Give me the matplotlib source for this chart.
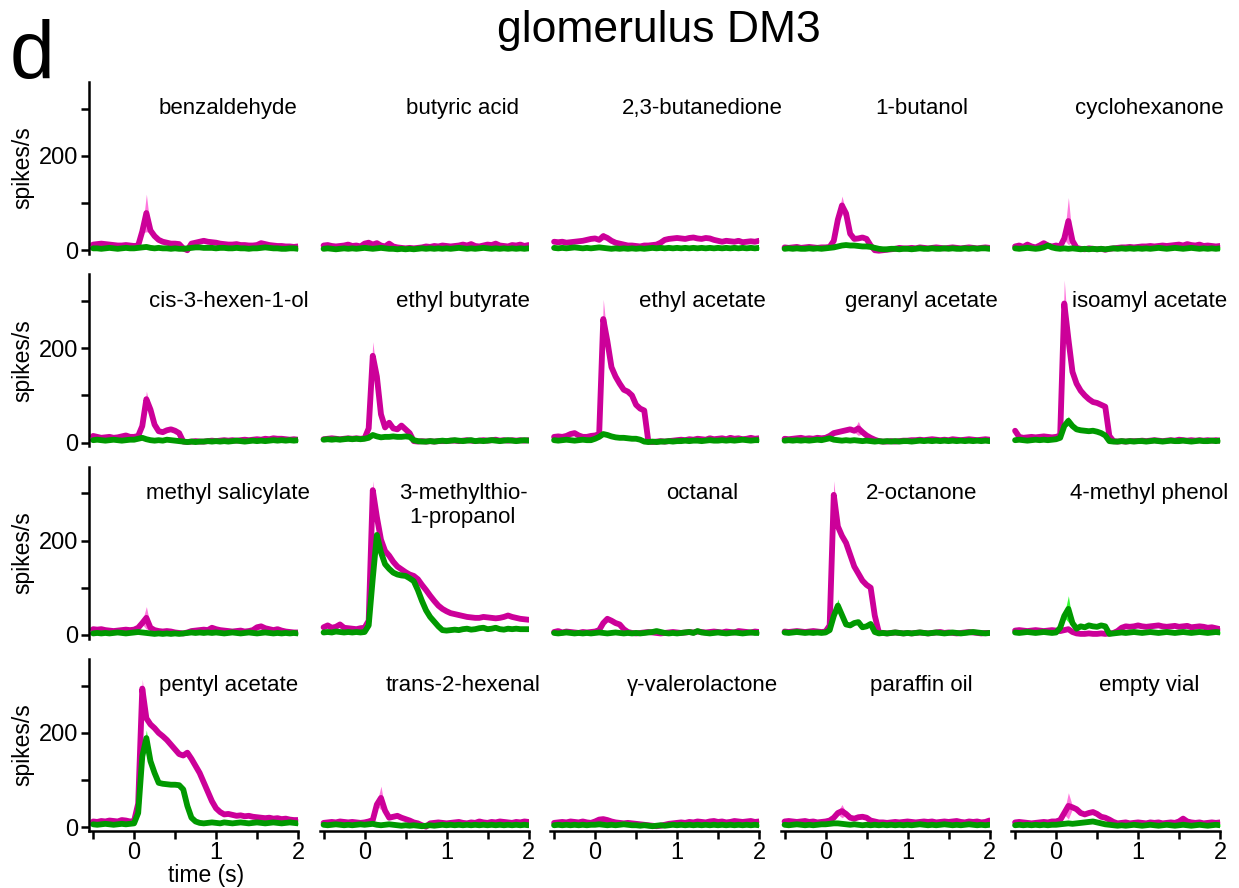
import numpy as np
import matplotlib
matplotlib.use("Agg")
import matplotlib.pyplot as plt
from matplotlib.ticker import MultipleLocator

plt.rcParams['font.family'] = ['Liberation Sans', 'DejaVu Sans']

# 50 ms bins from -0.5 s to 2.0 s (odor onset at 0)
time_s = np.round(np.arange(-0.5, 2.0001, 0.05), 2)

odors = ["benzaldehyde", "butyric acid", "2,3-butanedione", "1-butanol", "cyclohexanone",
         "cis-3-hexen-1-ol", "ethyl butyrate", "ethyl acetate", "geranyl acetate", "isoamyl acetate",
         "methyl salicylate", "3-methylthio-\n1-propanol", "octanal", "2-octanone", "4-methyl phenol",
         "pentyl acetate", "trans-2-hexenal", "\u03b3-valerolactone", "paraffin oil", "empty vial"]

# firing rates (spikes/s), magenta = _m, green = _g
benzaldehyde_m = [12,13,14,13,12,11,10,10,11,10, 9,10,40,79,42,30,22,18,16,14, 14,13,4,0,14,16,18,20,18,17, 16,14,13,12,12,13,11,11,10,10, 11,15,13,11,10,9,9,8,8,7,8]
benzaldehyde_g = [4,4,3,4,5,4,3,4,5,4, 4,5,6,7,5,4,5,4,4,3, 4,3,3,4,5,6,6,5,5,5, 4,5,5,4,4,5,4,4,3,4, 4,5,6,5,4,4,3,3,4,4,3]
butyric_m = [10,11,9,8,9,10,12,9,10,8, 14,16,12,15,10,8,14,8,6,5, 4,5,4,5,6,8,7,9,8,10, 9,8,9,10,12,10,13,9,8,10, 12,11,14,10,9,8,11,10,12,9,11]
butyric_g = [3,4,3,2,3,4,3,4,3,4, 5,4,3,4,5,4,3,3,2,3, 2,3,2,3,4,3,4,3,4,3, 4,3,4,5,4,3,4,3,4,5, 4,3,4,3,4,3,4,3,4,3,4]
butanedione_m = [18,17,18,16,17,18,19,20,22,24, 25,22,30,26,20,16,14,12,10,10, 9,8,10,10,11,12,16,22,24,25, 26,25,24,26,27,25,24,26,25,22, 20,18,20,19,18,20,17,18,19,18,20]
butanedione_g = [5,4,5,4,5,6,5,4,5,4, 5,6,5,4,3,4,3,4,3,4, 3,4,3,4,5,4,5,4,5,4, 5,4,5,4,5,4,5,4,5,4, 5,4,5,4,5,4,5,4,5,4,5]
butanol_m = [6,5,6,7,5,6,7,6,5,6, 6,7,20,65,95,78,35,24,25,27, 24,10,0,-1,0,1,2,3,5,4, 4,5,4,6,5,4,5,6,5,4, 5,6,5,4,5,6,5,4,5,6,5]
butanol_g = [3,4,3,4,3,3,4,3,4,3, 4,5,6,8,10,11,10,10,9,8, 8,7,5,3,2,2,3,3,2,3, 3,2,3,4,3,3,4,3,3,4, 3,4,3,3,4,3,4,3,4,4,3]
cyclohexanone_m = [8,10,7,12,8,6,10,15,10,8, 10,8,25,62,20,5,3,2,4,3, 2,3,1,3,4,5,6,6,7,6, 7,8,8,9,8,9,10,9,10,11, 12,10,13,11,10,12,9,10,9,8,9]
cyclohexanone_g = [4,3,4,5,4,3,4,6,10,6, 4,3,4,3,4,3,2,3,2,3, 2,3,2,3,4,3,4,3,4,3, 4,3,4,3,4,5,4,3,4,5, 4,3,4,5,4,3,4,3,4,3,4]

hexenol_m = [14,12,10,11,12,10,11,13,15,12, 12,14,35,92,70,38,24,22,26,28, 25,20,2,1,2,3,2,2,3,4, 3,4,5,4,5,4,5,6,5,6, 7,6,8,7,9,8,8,7,6,7,6]
hexenol_g = [5,6,5,4,5,6,5,4,5,6, 6,8,10,7,5,4,5,4,6,5, 4,3,2,1,2,1,2,2,3,2, 3,2,3,2,3,4,3,2,3,4, 3,4,3,4,5,4,5,4,5,4,5]
ethylbutyrate_m = [7,8,9,8,7,8,9,8,9,8, 9,30,184,140,60,32,42,30,28,36, 28,20,3,2,3,2,3,2,3,3, 3,4,4,3,4,5,4,3,4,5, 4,5,6,4,5,4,5,4,5,4,5]
ethylbutyrate_g = [6,7,6,7,6,7,8,7,8,7, 8,10,16,13,11,12,12,13,12,12, 13,12,5,3,2,2,3,2,3,4, 3,4,5,4,3,4,5,3,4,3, 4,5,4,3,4,5,4,3,4,5,4]
ethylacetate_m = [12,13,12,14,18,20,15,12,12,14, 15,18,262,215,160,140,125,112,108,100, 80,72,68,2,1,2,3,2,3,4, 5,6,5,7,6,8,7,6,9,7, 8,9,7,10,8,9,7,8,10,8,9]
ethylacetate_g = [5,4,5,6,5,4,5,6,5,5, 8,12,18,16,13,11,10,10,9,8, 8,6,2,1,2,1,2,2,3,2, 3,3,4,3,4,4,3,4,5,4, 4,5,4,5,4,5,6,5,4,5,5]
geranyl_m = [8,7,8,9,10,8,9,8,10,9, 10,14,20,22,24,26,28,25,30,22, 15,10,6,3,2,2,3,2,3,4, 4,5,5,6,5,6,7,6,5,6, 5,7,6,5,6,7,6,5,6,7,6]
geranyl_g = [4,5,4,5,4,5,4,5,6,5, 7,9,6,5,4,5,4,5,4,3, 4,3,2,3,2,3,2,3,2,3, 3,2,3,4,3,4,3,4,3,4, 3,4,3,4,3,4,3,4,3,4,3]
isoamyl_m = [25,12,10,11,12,11,12,13,12,11, 12,15,295,220,150,125,110,100,92,86, 84,80,76,14,3,2,3,2,3,3, 3,4,3,4,5,4,3,4,5,4, 6,5,4,5,4,5,4,5,4,5,4]
isoamyl_g = [5,6,5,4,5,6,5,6,5,6, 7,10,35,46,35,28,26,25,24,25, 23,20,15,3,2,2,3,2,3,2, 3,3,2,3,4,3,2,3,4,3, 3,4,3,2,3,4,3,3,4,3,4]

salicylate_m = [12,11,12,10,9,8,9,10,11,10, 11,15,25,36,15,10,8,7,8,7, 5,4,3,5,8,9,10,11,10,15, 12,10,9,8,7,8,9,7,8,10, 16,18,14,12,10,12,9,7,6,5,5]
salicylate_g = [3,4,3,4,3,4,5,4,3,4, 5,6,5,4,3,2,3,2,3,2, 3,2,3,4,5,4,5,4,5,4, 5,4,3,4,5,4,3,4,5,4, 3,4,5,4,3,4,3,4,3,4,3]
methylthio_m = [16,20,15,17,22,15,14,13,12,14, 15,30,307,250,202,178,168,155,145,139, 133,128,125,118,106,95,83,72,62,55, 50,46,44,42,40,38,37,36,36,38, 37,36,35,36,38,41,38,36,34,33,32]
methylthio_g = [5,6,5,7,6,5,6,5,6,5, 6,20,120,212,175,150,140,132,128,126, 125,120,114,95,72,52,38,28,18,10, 9,10,11,10,12,13,11,12,14,15, 12,13,15,12,11,13,12,13,12,12,12]
octanal_m = [6,8,5,7,6,5,4,6,5,6, 7,10,25,34,30,25,22,12,6,4, 3,4,5,6,5,4,3,4,5,6, 5,4,5,6,5,7,6,5,6,7, 6,5,7,6,5,8,7,6,5,7,6]
octanal_g = [4,3,4,5,4,3,4,3,4,3, 4,5,4,3,4,5,4,3,4,3, 4,3,4,5,6,8,6,4,3,4, 3,4,5,6,4,8,5,4,3,4, 5,4,3,4,5,4,3,4,5,4,4]
octanone_m = [7,6,7,8,7,6,7,8,7,6, 7,20,297,230,210,195,170,145,130,115, 106,100,41,5,4,3,4,5,4,3, 4,3,4,5,4,3,4,5,6,4, 5,4,3,4,5,6,5,4,3,4,4]
octanone_g = [5,4,5,6,5,4,5,4,5,4, 5,10,40,62,42,22,20,25,27,16, 18,23,6,3,4,3,4,5,4,3, 4,3,4,5,4,3,4,5,4,3, 4,5,4,3,4,5,6,5,4,3,4]
phenol_m = [9,10,9,8,9,10,9,8,9,10, 9,8,10,12,6,3,2,2,3,2, 2,3,2,3,4,8,15,18,17,18, 20,18,17,18,19,20,18,17,18,19, 17,18,19,16,17,18,17,15,16,14,12]
phenol_g = [5,4,5,6,5,4,5,6,5,4, 5,15,40,55,25,13,18,16,20,18, 17,20,18,2,3,4,5,4,5,6, 5,4,5,6,5,4,5,6,5,4, 5,6,5,4,5,6,5,4,5,6,5]

pentyl_m = [12,11,13,12,14,13,12,15,14,12, 13,50,294,231,218,210,200,193,185,175, 165,155,152,158,145,130,115,95,75,55, 40,32,27,28,26,24,25,23,24,22, 21,20,19,20,18,19,17,18,16,15,15]
pentyl_g = [6,5,6,7,6,5,6,7,6,7, 8,30,150,189,140,115,94,92,91,90, 90,89,80,45,20,12,9,8,9,10, 9,8,10,9,8,9,10,9,8,9, 10,9,8,9,10,9,8,9,10,9,8]
hexenal_m = [9,10,11,10,12,11,10,11,10,9, 10,12,15,48,62,35,20,22,24,20, 17,14,10,8,4,1,8,9,10,9, 8,9,10,11,9,8,10,9,12,10, 9,11,10,12,11,10,9,11,10,12,11]
hexenal_g = [5,4,5,6,5,4,5,4,5,6, 5,6,7,5,4,5,6,5,4,3, 4,3,4,3,2,3,4,3,4,5, 4,5,4,5,4,5,4,5,4,5, 4,5,4,5,4,5,4,5,4,5,4]
valerolactone_m = [9,10,11,10,12,11,10,12,10,9, 12,16,17,15,12,10,9,8,9,8, 7,6,5,4,3,2,3,5,7,8, 9,10,9,11,10,12,11,10,12,13, 11,12,10,11,13,12,11,12,13,11,12]
valerolactone_g = [4,5,4,5,4,5,4,5,4,5, 5,6,5,4,5,4,5,6,5,4, 4,3,4,3,2,3,4,3,4,5, 4,5,4,5,4,5,4,5,4,5, 4,5,4,5,4,5,4,5,4,5,4]
paraffin_m = [12,13,12,11,12,13,11,12,10,11, 12,14,20,30,34,28,20,18,21,22, 20,14,12,10,10,9,10,11,10,11, 12,11,10,11,12,11,12,10,11,12, 11,12,13,11,10,12,11,12,10,11,14]
paraffin_g = [5,4,5,6,5,4,5,4,5,6, 6,7,8,8,7,6,5,6,5,4, 5,4,5,4,5,4,5,4,5,4, 5,4,5,6,5,4,5,4,5,6, 5,4,5,4,5,6,5,4,5,4,5]
empty_m = [10,11,10,9,8,9,10,11,10,12, 12,15,30,45,42,38,30,27,30,32, 28,22,20,16,11,8,9,10,8,9, 10,9,8,10,9,10,8,9,10,9, 12,18,12,10,9,10,8,9,10,9,10]
empty_g = [4,5,4,5,4,5,4,5,4,5, 5,6,7,8,7,8,9,10,11,12, 10,8,6,5,4,3,4,3,4,5, 4,3,4,5,4,3,4,5,4,3, 4,5,4,3,4,5,4,3,4,5,4]

traces_m = [benzaldehyde_m, butyric_m, butanedione_m, butanol_m, cyclohexanone_m,
            hexenol_m, ethylbutyrate_m, ethylacetate_m, geranyl_m, isoamyl_m,
            salicylate_m, methylthio_m, octanal_m, octanone_m, phenol_m,
            pentyl_m, hexenal_m, valerolactone_m, paraffin_m, empty_m]
traces_g = [benzaldehyde_g, butyric_g, butanedione_g, butanol_g, cyclohexanone_g,
            hexenol_g, ethylbutyrate_g, ethylacetate_g, geranyl_g, isoamyl_g,
            salicylate_g, methylthio_g, octanal_g, octanone_g, phenol_g,
            pentyl_g, hexenal_g, valerolactone_g, paraffin_g, empty_g]

# s.e.m. at the peak bin of each trace (baseline s.e.m. ~3)
sem_base = 3
sem_peak_m = [40, 5, 8, 20, 50, 17, 30, 42, 15, 50, 24, 20, 6, 30, 5, 20, 25, 4, 14, 28]
sem_peak_g = [3, 3, 3, 3, 3, 3, 4, 4, 3, 10, 3, 11, 3, 14, 28, 17, 3, 3, 3, 3]

MAG, MAG_LT = '#CC0099', '#FF77DD'
GRN, GRN_LT = '#009900', '#33FF33'

W, H = 1239, 888
fig = plt.figure(figsize=(W / 100, H / 100), dpi=100)

label_x = [1.15, 1.2, 1.31, 1.17, 1.14]

for k, name in enumerate(odors):
    r, c = divmod(k, 5)
    left = 89 + c * 230.5
    top = 82 + r * 192.3
    ax = fig.add_axes([left / W, 1 - (top + 172) / H, 209 / W, 172 / H])
    ax.set_xlim(-0.55, 2.0)
    ax.set_ylim(-8, 357)

    for data, peaks, col, lt in ((traces_m, sem_peak_m, MAG, MAG_LT),
                                 (traces_g, sem_peak_g, GRN, GRN_LT)):
        y = np.array(data[k], dtype=float)
        sem = np.full(len(y), float(sem_base))
        sem[np.argmax(y)] = peaks[k]
        ax.fill_between(time_s, y - sem, y + sem, color=lt, lw=0)
        ax.plot(time_s, y, color=col, lw=4.2, solid_joinstyle='round',
                solid_capstyle='round')

    ax.text(label_x[c], 322, name, ha='center', va='top', fontsize=16,
            multialignment='center', linespacing=1.2)

    for s in ax.spines.values():
        s.set_visible(False)
    ax.tick_params(which='both', direction='out', width=1.8, length=6,
                   labelsize=17, pad=2)
    if c == 0:
        ax.spines['left'].set_visible(True)
        ax.spines['left'].set_linewidth(1.8)
        ax.yaxis.set_major_locator(MultipleLocator(200))
        ax.yaxis.set_minor_locator(MultipleLocator(100))
        ax.set_ylabel('spikes/s', fontsize=16.5, labelpad=3)
    else:
        ax.set_yticks([])
    if r == 3:
        ax.spines['bottom'].set_visible(True)
        ax.spines['bottom'].set_linewidth(1.8)
        ax.xaxis.set_major_locator(MultipleLocator(1))
        ax.xaxis.set_minor_locator(MultipleLocator(0.5))
        if c == 0:
            ax.set_xlabel('time (s)', fontsize=16.5)
            ax.xaxis.set_label_coords(0.56, -0.19)
    else:
        ax.set_xticks([])

fig.text(0.532, 1 - 42 / H, 'glomerulus DM3', ha='center', va='baseline', fontsize=32)
fig.text(0.008, 1 - 78 / H, 'd', ha='left', va='baseline', fontsize=58)

fig.savefig('out.png', dpi=100)
